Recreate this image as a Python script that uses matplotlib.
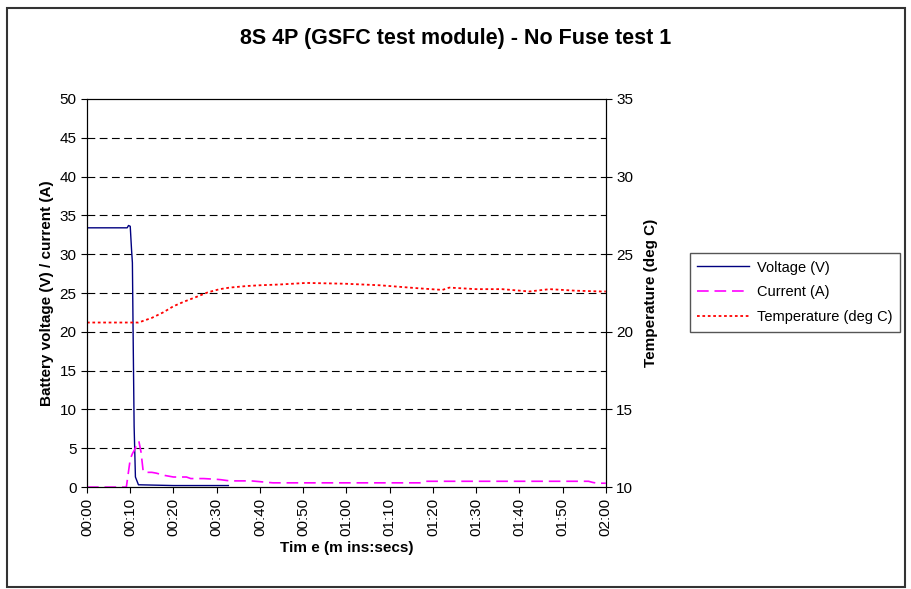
import matplotlib
matplotlib.use("Agg")
import matplotlib.pyplot as plt
from matplotlib.patches import Rectangle

plt.rcParams['font.family'] = ['Liberation Sans', 'DejaVu Sans']

# datos (tiempo en segundos)
t_volt = [0, 9.3, 9.6, 10.0, 10.3, 10.5, 10.7, 10.9, 11.2, 11.9, 20, 32.7]
voltage = [33.4, 33.4, 33.7, 33.6, 30.6, 28.9, 18.0, 7.8, 1.3, 0.3, 0.2, 0.2]

t_curr = [0, 9.1, 9.6, 10.0, 10.5, 11.0, 11.5, 12.0, 12.5, 13.0, 14, 15, 16, 18, 20,
          23, 24, 27, 30, 31, 33, 38, 43, 50, 60, 70, 77, 78, 90, 100, 110, 116,
          117, 118, 120]
current = [0, 0, 2.0, 3.6, 4.3, 4.8, 5.5, 5.9, 4.5, 2.0, 1.9, 1.9, 1.8, 1.5, 1.3,
           1.3, 1.1, 1.1, 1.0, 0.95, 0.8, 0.8, 0.55, 0.55, 0.55, 0.55, 0.55, 0.75,
           0.75, 0.75, 0.75, 0.75, 0.6, 0.5, 0.5]

t_temp = [0, 11.9, 15, 17.6, 20, 22.5, 25.3, 28, 30.7, 33, 36.9, 40, 44.6, 50.7,
          59.6, 67.7, 76.9, 82.2, 83.8, 90, 96, 102.3, 107, 113, 119, 120]
temperature = [20.6, 20.6, 20.9, 21.25, 21.65, 21.95, 22.25, 22.55, 22.75, 22.85,
               22.95, 23.0, 23.05, 23.15, 23.1, 23.0, 22.8, 22.7, 22.85, 22.75,
               22.75, 22.6, 22.75, 22.65, 22.6, 22.6]

tick_secs = list(range(0, 121, 10))
tick_labels = ['%02d:%02d' % (s // 60, s % 60) for s in tick_secs]

fig = plt.figure(figsize=(9.11, 5.89), dpi=100)
# marco exterior del grafico
fig.patches.append(Rectangle((0.0077, 0.0034), 0.986, 0.983, transform=fig.transFigure,
                             fill=False, edgecolor='#333333', linewidth=1.5))
ax = fig.add_axes([0.0955, 0.173, 0.5695, 0.659])
ax2 = ax.twinx()

# lineas
l1, = ax.plot(t_volt, voltage, color='#000080', linewidth=1.0, label='Voltage (V)')
l2, = ax.plot(t_curr, current, color='#ff00ff', linewidth=1.2, dashes=(7, 3.5),
              label='Current (A)')
l3, = ax2.plot(t_temp, temperature, color='#ff0000', linewidth=1.3,
               linestyle=(0, (1.5, 1.5)), label='Temperature (deg C)')

ax.set_xlim(0, 120)
ax.set_ylim(0, 50)
ax2.set_ylim(10, 35)
ax.set_xticks(tick_secs)
ax.set_xticklabels(tick_labels, rotation=90)
ax.set_yticks(range(0, 51, 5))
ax2.set_yticks(range(10, 36, 5))
ax.tick_params(labelsize=11, direction='out', length=4)
ax2.tick_params(labelsize=11, direction='out', length=4)

for y in range(5, 50, 5):
    ax.axhline(y, color='black', linewidth=0.8, dashes=(7, 4), zorder=0)

ax.set_xlabel('Tim e (m ins:secs)', fontsize=11, fontweight='bold')
ax.set_ylabel('Battery voltage (V) / current (A)', fontsize=11, fontweight='bold')
ax2.set_ylabel('Temperature (deg C)', fontsize=11, fontweight='bold', labelpad=8)
fig.text(0.5, 0.935, '8S 4P (GSFC test module) - No Fuse test 1', ha='center',
         va='center', fontsize=15.5, fontweight='bold')

leg = fig.legend(handles=[l1, l2, l3], loc='upper left', bbox_to_anchor=(0.757, 0.570),
                 borderaxespad=0, fontsize=10.5, handlelength=3.6, handletextpad=0.5,
                 fancybox=False, edgecolor='#555555', framealpha=1, borderpad=0.5,
                 labelspacing=0.75)
leg.get_frame().set_linewidth(1.0)

fig.savefig('out.png', dpi=100)
